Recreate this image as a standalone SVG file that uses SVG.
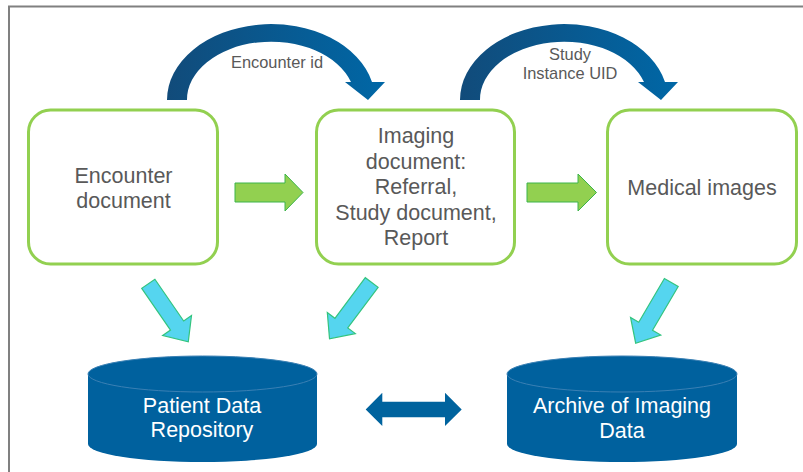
<svg xmlns="http://www.w3.org/2000/svg" width="803" height="472" viewBox="0 0 803 472">
  <style>
    .box { fill: #ffffff; stroke: #92d050; stroke-width: 3; }
    .lbl { font-family: "Liberation Sans", Arial, sans-serif; font-size: 21.5px; fill: #595959; text-anchor: middle; }
    .small { font-family: "Liberation Sans", Arial, sans-serif; font-size: 16.4px; fill: #595959; text-anchor: middle; }
    .dbtxt { font-family: "Liberation Sans", Arial, sans-serif; font-size: 21.5px; fill: #ffffff; text-anchor: middle; }
    .db { fill: #00619e; }
    .rim { fill: #00619e; stroke: #3a80b4; stroke-width: 1; }
    .flow { fill: #92d050; stroke: #3cb44a; stroke-width: 1; }
    .feed { fill: #55d5ef; stroke: #33c47e; stroke-width: 1.2; }
    .arc { fill: url(#arcGrad); }
    .link { fill: #00639e; }
  </style>
  <defs>
    <linearGradient id="arcGrad" x1="0" y1="0" x2="1" y2="0">
      <stop offset="0" stop-color="#114b7a"/>
      <stop offset="1" stop-color="#0067a6"/>
    </linearGradient>
    <!-- block arrow pointing along +x, tail at origin -->
    <path id="feedArrow" d="M0,-8 L50.7,-8 L50.7,-17.5 L70.4,0 L50.7,17.5 L50.7,8 L0,8 Z"/>
    <!-- curved hop arrow -->
    <path id="hop" d="M167,100 A104,76 0 0 1 372,82 L385,82 L368,100 L345,82 L351,82 A84,58 0 0 0 187,100 Z"/>
  </defs>

  <!-- frame -->
  <path d="M9,472 L9,6.5 L803,6.5" fill="none" stroke="#808080" stroke-width="2"/>

  <g id="connectors">
    <use href="#hop" class="arc"/>
    <use href="#hop" class="arc" transform="translate(293,0)"/>
    <text class="small" x="277" y="68">Encounter id</text>
    <text class="small" x="570" y="60">Study</text>
    <text class="small" x="570" y="79">Instance UID</text>

    <path class="flow" d="M235,183 L285,183 L285,174 L303,192.5 L285,211 L285,202 L235,202 Z"/>
    <path class="flow" d="M527,183 L578,183 L578,174 L596.5,192.5 L578,211 L578,202 L527,202 Z"/>

    <use href="#feedArrow" class="feed" transform="translate(148.3,283.8) rotate(55.4)"/>
    <use href="#feedArrow" class="feed" transform="translate(371.7,282.5) rotate(126.8)"/>
    <use href="#feedArrow" class="feed" transform="translate(671.3,282.5) rotate(120.4)"/>

    <path class="link" d="M365.7,409.5 L382.3,392.7 L382.3,401.7 L445,401.7 L445,392.7 L461.7,409.5 L445,426 L445,417.3 L382.3,417.3 L382.3,426 Z"/>
  </g>

  <g id="encounter-document">
    <rect class="box" x="28.5" y="110" width="189" height="154" rx="22"/>
    <text class="lbl" x="123.5" y="183">Encounter</text>
    <text class="lbl" x="123.5" y="208">document</text>
  </g>

  <g id="imaging-document">
    <rect class="box" x="316.5" y="110" width="198" height="154" rx="22"/>
    <text class="lbl" x="416" y="143">Imaging</text>
    <text class="lbl" x="416" y="168.5">document:</text>
    <text class="lbl" x="416" y="194">Referral,</text>
    <text class="lbl" x="416" y="219.5">Study document,</text>
    <text class="lbl" x="416" y="245">Report</text>
  </g>

  <g id="medical-images">
    <rect class="box" x="607.5" y="110" width="189" height="154" rx="22"/>
    <text class="lbl" x="702" y="195">Medical images</text>
  </g>

  <g id="patient-data-repository">
    <path class="db" d="M88,374 L88,444 A114.5,18 0 0 0 317,444 L317,374 Z"/>
    <ellipse class="rim" cx="202.5" cy="374" rx="114.5" ry="18"/>
    <text class="dbtxt" x="202" y="413">Patient Data</text>
    <text class="dbtxt" x="202" y="437">Repository</text>
  </g>

  <g id="archive-of-imaging-data">
    <path class="db" d="M507,374 L507,444 A115,18 0 0 0 737,444 L737,374 Z"/>
    <ellipse class="rim" cx="622" cy="374" rx="115" ry="18"/>
    <text class="dbtxt" x="622" y="413">Archive of Imaging</text>
    <text class="dbtxt" x="622" y="438">Data</text>
  </g>
</svg>
